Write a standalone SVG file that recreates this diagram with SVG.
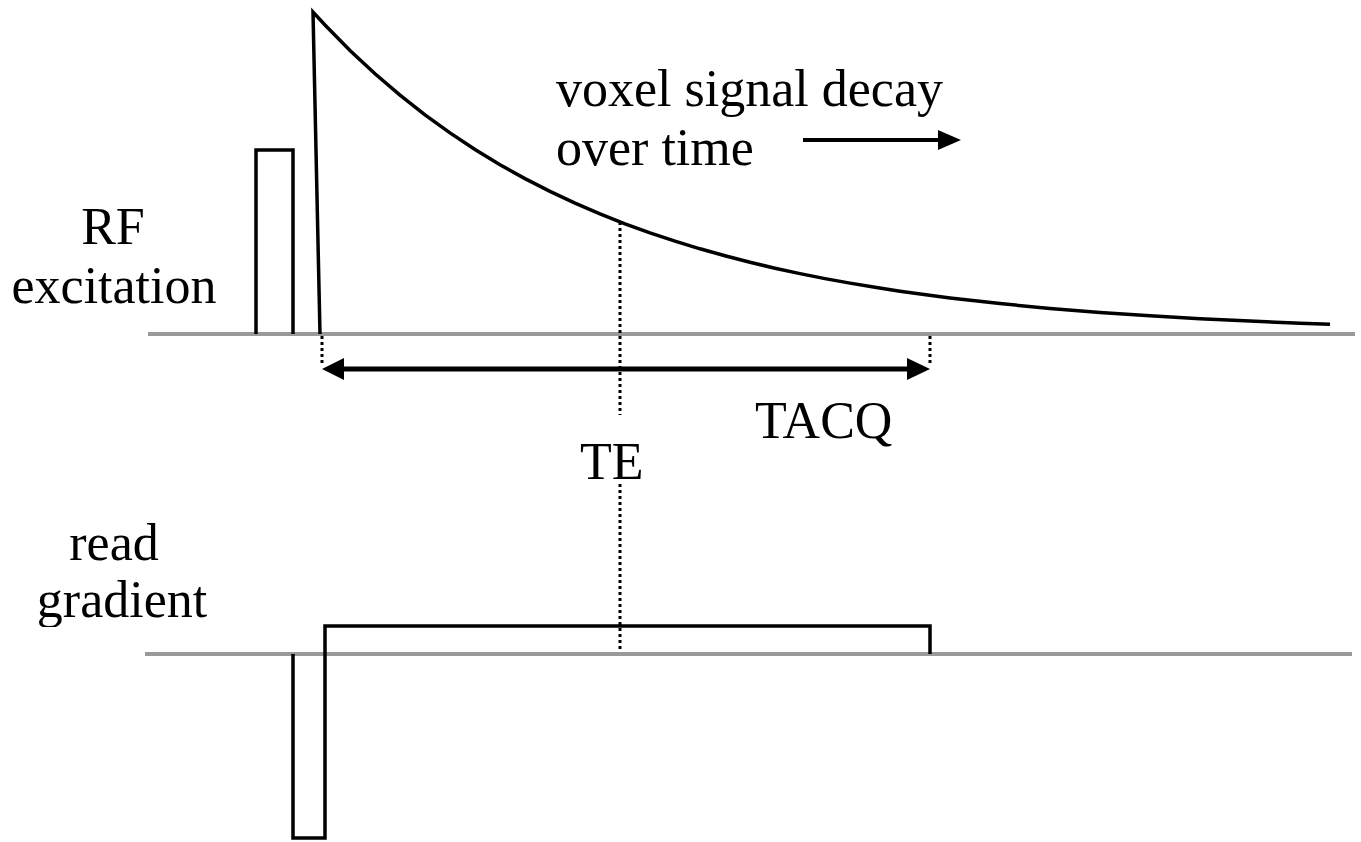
<svg xmlns="http://www.w3.org/2000/svg" width="1361" height="842" viewBox="0 0 1361 842">
<style>
text{font-family:"Liberation Serif","Times New Roman",serif;font-size:52px;fill:#000}
.axis{stroke:#999;stroke-width:4;fill:none}
.pulse{stroke:#000;stroke-width:3.5;fill:none;stroke-linejoin:miter}
.dot{stroke:#000;stroke-width:3;stroke-dasharray:3 3;fill:none}
.arr{stroke:#000;stroke-width:5;fill:none}
</style>
<defs>
<clipPath id="clipGrad"><rect x="0" y="500" width="360" height="127"/></clipPath>
</defs>
<rect width="1361" height="842" fill="#fff"/>
<g id="axes">
<line class="axis" x1="148" y1="334" x2="1355" y2="334"/>
<line class="axis" x1="145" y1="654" x2="1352" y2="654"/>
</g>
<g id="rf-pulse"><polyline class="pulse" points="256,334 256,150 293,150 293,334"/></g>
<g id="signal-decay"><polyline class="pulse" stroke-linejoin="round" points="320,334 313,12 325,25 350,50.5 375,73.8 400,95.2 425,114.8 450,132.9 475,149.5 500,164.7 525,178.6 550,191.4 575,203.1 600,213.9 625,223.8 650,232.9 675,241.2 700,248.8 725,255.8 750,262.3 775,268.2 800,273.6 825,278.6 850,283.1 875,287.3 900,291.2 950,297.9 1000,303.6 1050,308.4 1100,312.5 1150,315.8 1200,318.7 1250,321.1 1300,323.2 1330,324.2"/></g>
<g id="read-gradient">
<polyline class="pulse" points="293,654 293,838 325,838 325,654"/>
<polyline class="pulse" points="325,654 325,626 930,626 930,654"/>
</g>
<g id="connectors">
<line class="dot" x1="322" y1="336" x2="322" y2="366"/>
<line class="dot" x1="930" y1="336" x2="930" y2="366"/>
<line class="dot" x1="620" y1="222" x2="620" y2="415"/>
<line class="dot" x1="620" y1="484" x2="620" y2="650"/>
<line class="arr" x1="340" y1="369" x2="910" y2="369"/>
<polygon points="322,369 344,358 344,380" fill="#000"/>
<polygon points="930,369 907,358 907,380" fill="#000"/>
<line stroke="#000" stroke-width="4" x1="803" y1="140" x2="942" y2="140"/>
<polygon points="961,140 938,130 938,150" fill="#000"/>
</g>
<g id="labels">
<text x="113" y="244" text-anchor="middle">RF</text>
<text x="114" y="303" text-anchor="middle">excitation</text>
<text x="114" y="560" text-anchor="middle">read</text>
<text x="122" y="617" text-anchor="middle" clip-path="url(#clipGrad)">gradient</text>
<text x="556" y="106">voxel signal decay</text>
<text x="556" y="165">over time</text>
<text x="755" y="438">TACQ</text>
<text x="580" y="479">TE</text>
</g>
</svg>
